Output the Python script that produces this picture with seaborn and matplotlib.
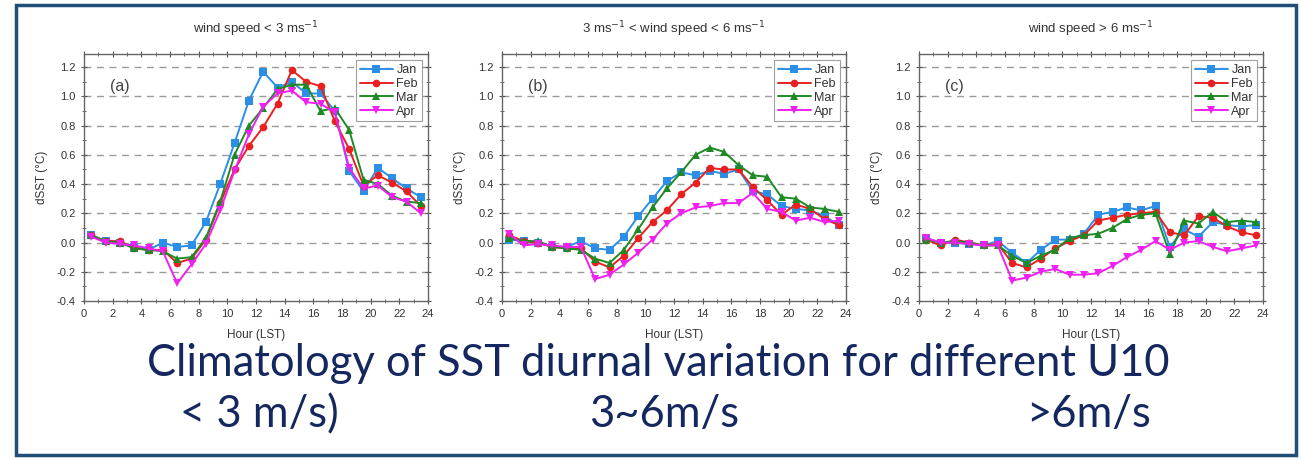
import numpy as np
import pandas as pd
import matplotlib
matplotlib.use("Agg")
import matplotlib.pyplot as plt
from matplotlib.patches import Rectangle
from matplotlib.ticker import MultipleLocator, FormatStrFormatter
import seaborn as sns

sns.set_theme(style="white")
plt.rcParams["font.family"] = ["Liberation Sans", "DejaVu Sans"]

# Hour-of-day bin centres (local solar time)
hours = np.arange(0.5, 24, 1.0)
months = ["Jan", "Feb", "Mar", "Apr"]

# (a) wind speed < 3 m/s
a_jan = [0.05, 0.01, 0.00, -0.03, -0.05, 0.00, -0.03, -0.02, 0.14, 0.40, 0.68, 0.97,
         1.17, 1.06, 1.10, 1.02, 1.02, 0.90, 0.49, 0.35, 0.51, 0.44, 0.37, 0.31]
a_feb = [0.05, 0.01, 0.01, -0.04, -0.05, -0.05, -0.14, -0.11, 0.02, 0.27, 0.50, 0.66,
         0.79, 0.95, 1.18, 1.10, 1.07, 0.83, 0.64, 0.39, 0.46, 0.41, 0.35, 0.25]
a_mar = [0.05, 0.01, 0.00, -0.04, -0.05, -0.06, -0.11, -0.10, 0.03, 0.28, 0.60, 0.80,
         0.92, 1.05, 1.08, 1.08, 0.90, 0.92, 0.77, 0.43, 0.40, 0.32, 0.28, 0.27]
a_apr = [0.04, 0.00, -0.01, -0.02, -0.04, -0.06, -0.28, -0.15, -0.01, 0.22, 0.49, 0.74,
         0.93, 1.02, 1.04, 0.96, 0.95, 0.89, 0.51, 0.37, 0.39, 0.31, 0.28, 0.20]

# (b) 3 m/s < wind speed < 6 m/s
b_jan = [0.02, 0.01, 0.00, -0.03, -0.03, 0.01, -0.04, -0.05, 0.04, 0.18, 0.30, 0.42,
         0.48, 0.46, 0.49, 0.47, 0.50, 0.35, 0.33, 0.25, 0.23, 0.22, 0.18, 0.12]
b_feb = [0.05, 0.01, 0.00, -0.03, -0.04, -0.04, -0.13, -0.17, -0.09, 0.03, 0.14, 0.22,
         0.33, 0.41, 0.51, 0.50, 0.50, 0.38, 0.29, 0.19, 0.26, 0.23, 0.16, 0.12]
b_mar = [0.03, 0.01, 0.01, -0.03, -0.04, -0.05, -0.11, -0.14, -0.05, 0.09, 0.24, 0.37,
         0.48, 0.60, 0.65, 0.62, 0.53, 0.46, 0.45, 0.31, 0.30, 0.24, 0.23, 0.21]
b_apr = [0.06, -0.02, -0.01, -0.02, -0.03, -0.03, -0.25, -0.22, -0.15, -0.07, 0.02, 0.13,
         0.20, 0.24, 0.25, 0.27, 0.27, 0.34, 0.23, 0.21, 0.15, 0.17, 0.14, 0.15]

# (c) wind speed > 6 m/s
c_jan = [0.03, 0.00, 0.00, -0.01, -0.02, 0.01, -0.07, -0.14, -0.05, 0.02, 0.02, 0.06,
         0.19, 0.21, 0.24, 0.22, 0.25, -0.03, 0.09, 0.04, 0.14, 0.12, 0.11, 0.12]
c_feb = [0.02, -0.02, 0.02, 0.00, -0.02, -0.01, -0.14, -0.17, -0.11, -0.04, 0.01, 0.05,
         0.15, 0.17, 0.19, 0.20, 0.21, 0.07, 0.05, 0.18, 0.17, 0.11, 0.07, 0.05]
c_mar = [0.02, 0.00, 0.01, 0.00, -0.02, -0.02, -0.09, -0.14, -0.09, -0.05, 0.03, 0.05,
         0.06, 0.10, 0.16, 0.19, 0.20, -0.08, 0.15, 0.13, 0.21, 0.14, 0.15, 0.14]
c_apr = [0.03, 0.00, 0.00, -0.01, -0.02, -0.02, -0.26, -0.24, -0.20, -0.18, -0.22, -0.22,
         -0.21, -0.16, -0.10, -0.05, 0.01, -0.05, 0.00, 0.01, -0.03, -0.06, -0.04, -0.02]

panel_titles = ["wind speed < 3 ms$^{-1}$",
                "3 ms$^{-1}$ < wind speed < 6 ms$^{-1}$",
                "wind speed > 6 ms$^{-1}$"]
panel_tags = ["(a)", "(b)", "(c)"]
panel_data = [[a_jan, a_feb, a_mar, a_apr],
              [b_jan, b_feb, b_mar, b_apr],
              [c_jan, c_feb, c_mar, c_apr]]

headline = "Climatology of SST diurnal variation for different U10"
class_labels = ["< 3 m/s)", "3~6m/s", ">6m/s"]

palette = {"Jan": "#2b8fe8", "Feb": "#e82020", "Mar": "#1f8a24", "Apr": "#f020f0"}
marker_map = {"Jan": "s", "Feb": "o", "Mar": "^", "Apr": "v"}

W, H = 1302, 459
fig = plt.figure(figsize=(W / 100, H / 100), dpi=100)
fig.patch.set_facecolor("white")

# outer frame
fig.add_artist(Rectangle((16 / W, 1 - 455 / H), (1296 - 16) / W, (455 - 5) / H,
                         transform=fig.transFigure, fill=False,
                         edgecolor="#1f4e79", linewidth=2.5))

lefts = [84, 502, 919]
ax_w = 344
top_px, bot_px = 54, 301

for i in range(3):
    ax = fig.add_axes([lefts[i] / W, 1 - bot_px / H, ax_w / W, (bot_px - top_px) / H])
    frames = []
    for m, vals in zip(months, panel_data[i]):
        frames.append(pd.DataFrame({"hour": hours, "dSST": vals, "month": m}))
    df = pd.concat(frames, ignore_index=True)

    for yv in np.arange(-0.2, 1.21, 0.2):
        ax.axhline(yv, color="#9a9a9a", lw=1.0, dashes=(5, 4), zorder=0)

    sns.lineplot(data=df, x="hour", y="dSST", hue="month", style="month",
                 palette=palette, markers=marker_map, dashes=False,
                 markersize=5.5, markeredgewidth=0, linewidth=1.4, ax=ax, legend=True)

    ax.set_xlim(0, 24)
    ax.set_ylim(-0.4, 1.29)
    ax.xaxis.set_major_locator(MultipleLocator(2))
    ax.xaxis.set_minor_locator(MultipleLocator(1))
    ax.yaxis.set_major_locator(MultipleLocator(0.2))
    ax.yaxis.set_minor_locator(MultipleLocator(0.1))
    ax.yaxis.set_major_formatter(FormatStrFormatter("%.1f"))
    ax.tick_params(which="both", direction="inout", top=True, right=True,
                   left=True, bottom=True, colors="#555555", labelsize=8)
    ax.tick_params(which="major", length=5, width=0.8)
    ax.tick_params(which="minor", length=3, width=0.6)
    ax.tick_params(axis="both", which="both", labelcolor="#333333")
    for s in ax.spines.values():
        s.set_color("#666666")
        s.set_linewidth(1.0)

    ax.set_xlabel("Hour (LST)", fontsize=8.5, color="#333333", labelpad=7)
    ax.set_ylabel("dSST (°C)", fontsize=8.5, color="#333333", labelpad=6)
    ax.set_title(panel_titles[i], fontsize=9.5, color="#333333", pad=15)
    ax.text(1.8, 1.07, panel_tags[i], fontsize=11.5, color="#444444", va="center")

    leg = ax.legend(loc="upper right", fontsize=9, frameon=True, fancybox=False,
                    edgecolor="#888888", borderpad=0.3, labelspacing=0.15,
                    handlelength=2.6, handletextpad=0.3, borderaxespad=0.5)
    leg.get_frame().set_linewidth(0.8)
    for t in leg.get_texts():
        t.set_color("#333333")

# caption lines below the panels
big_font = ["Lato", "DejaVu Sans"]
head = fig.text(0.5, 1 - 376 / H, headline, ha="center", va="baseline",
                fontsize=28, color="#14285f", family=big_font)
renderer = fig.canvas.get_renderer()
ext = head.get_window_extent(renderer)
# fit the headline to its intended span
head.set_fontsize(28 * 1023 / ext.width)
head.set_x((147 + 1023 / 2) / W)
fs = head.get_fontsize()
for x_px, lab in zip([259, 664, 1089], class_labels):
    fig.text(x_px / W, 1 - 427 / H, lab, ha="center", va="baseline",
             fontsize=fs, color="#14285f", family=big_font)

fig.savefig("out.png", dpi=100, facecolor="white")
